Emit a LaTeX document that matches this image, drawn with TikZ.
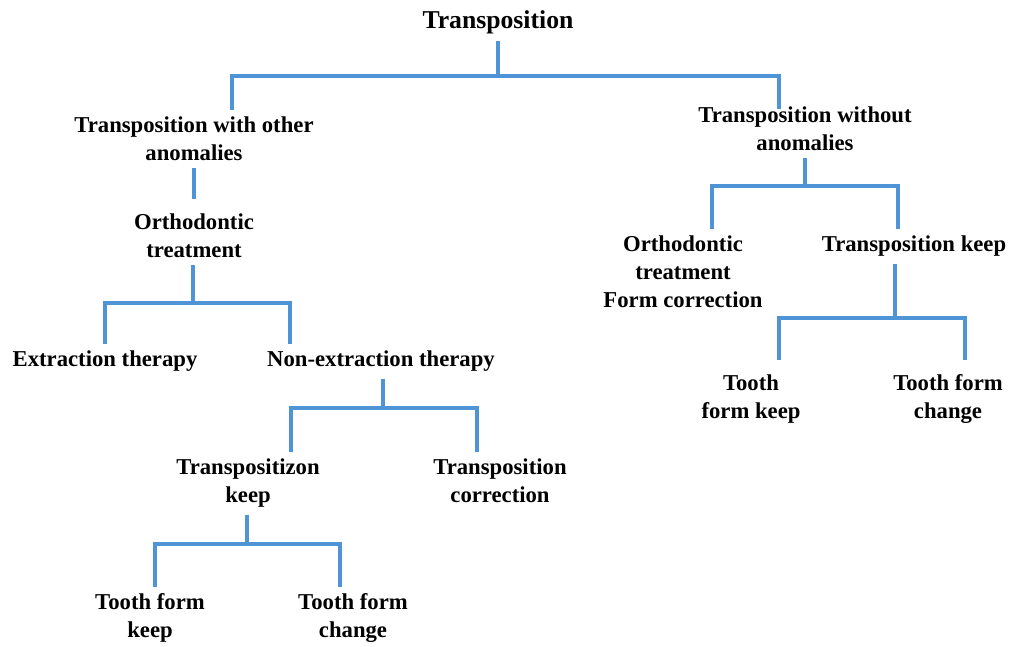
\documentclass[tikz,border=0pt]{standalone}
\usepackage{fontspec}
\setmainfont{Liberation Serif}
\definecolor{lineblue}{RGB}{78,148,214}
\begin{document}
\begin{tikzpicture}[x=1pt,y=-1pt,
    lbl/.style={font=\bfseries\fontsize{22.7}{28}\selectfont, align=center,
      inner sep=0pt, outer sep=7pt, anchor=north},
    toplbl/.style={lbl, font=\bfseries\fontsize{25.7}{30}\selectfont},
    link/.style={draw=lineblue, line width=3.2pt}]
  \useasboundingbox (0,0) rectangle (1013,647);
  % labels
  \node [toplbl] (root) at (498,4) {Transposition};
  \node [lbl] (with) at (194,110) {Transposition with other\\anomalies};
  \node [lbl] (without) at (805,100) {Transposition without\\anomalies};
  \node [lbl] (orthoL) at (194,207) {Orthodontic\\treatment};
  \node [lbl] (extr) at (105,344) {Extraction therapy};
  \node [lbl] (nonextr) at (381,344) {Non-extraction therapy};
  \node [lbl] (keepL) at (248,452) {Transpositizon\\keep};
  \node [lbl] (corrL) at (500,452) {Transposition\\correction};
  \node [lbl] (formkeepL) at (150,587) {Tooth form\\keep};
  \node [lbl] (formchangeL) at (353,587) {Tooth form\\change};
  \node [lbl] (orthoR) at (683,229) {Orthodontic\\treatment\\Form correction};
  \node [lbl] (keepR) at (914,229) {Transposition keep};
  \node [lbl] (formkeepR) at (751,368) {Tooth\\form keep};
  \node [lbl] (formchangeR) at (948,368) {Tooth form\\change};
  % junctions
  \coordinate (a) at (498,76);  \coordinate (a1) at (232,76);  \coordinate (a2) at (779,76);
  \coordinate (b) at (193,303); \coordinate (b1) at (105,303); \coordinate (b2) at (290,303);
  \coordinate (c) at (383,408); \coordinate (c1) at (291,408); \coordinate (c2) at (477,408);
  \coordinate (d) at (247,544); \coordinate (d1) at (155,544); \coordinate (d2) at (340,544);
  \coordinate (e) at (805,186); \coordinate (e1) at (712,186); \coordinate (e2) at (898,186);
  \coordinate (f) at (895,318); \coordinate (f1) at (779,318); \coordinate (f2) at (965,318);
  % connectors
  \draw [link] (a |- root.south) -- (a);
  \draw [link, shorten >=-9pt] (a1 |- with.north) -- (a1) -- (a2) -- (a2 |- without.north);
  \draw [link, shorten >=8pt] (with.south) -- (with.south |- orthoL.north);
  \draw [link] (b |- orthoL.south) -- (b);
  \draw [link] (b1 |- extr.north) -- (b1) -- (b2) -- (b2 |- nonextr.north);
  \draw [link] (c |- nonextr.south) -- (c);
  \draw [link] (c1 |- keepL.north) -- (c1) -- (c2) -- (c2 |- corrL.north);
  \draw [link] (d |- keepL.south) -- (d);
  \draw [link] (d1 |- formkeepL.north) -- (d1) -- (d2) -- (d2 |- formchangeL.north);
  \draw [link] (e |- without.south) -- (e);
  \draw [link] (e1 |- orthoR.north) -- (e1) -- (e2) -- (e2 |- keepR.north);
  \draw [link] (f |- keepR.south) -- (f);
  \draw [link, shorten <=8pt, shorten >=8pt] (f1 |- formkeepR.north) -- (f1) -- (f2) -- (f2 |- formchangeR.north);
\end{tikzpicture}
\end{document}
